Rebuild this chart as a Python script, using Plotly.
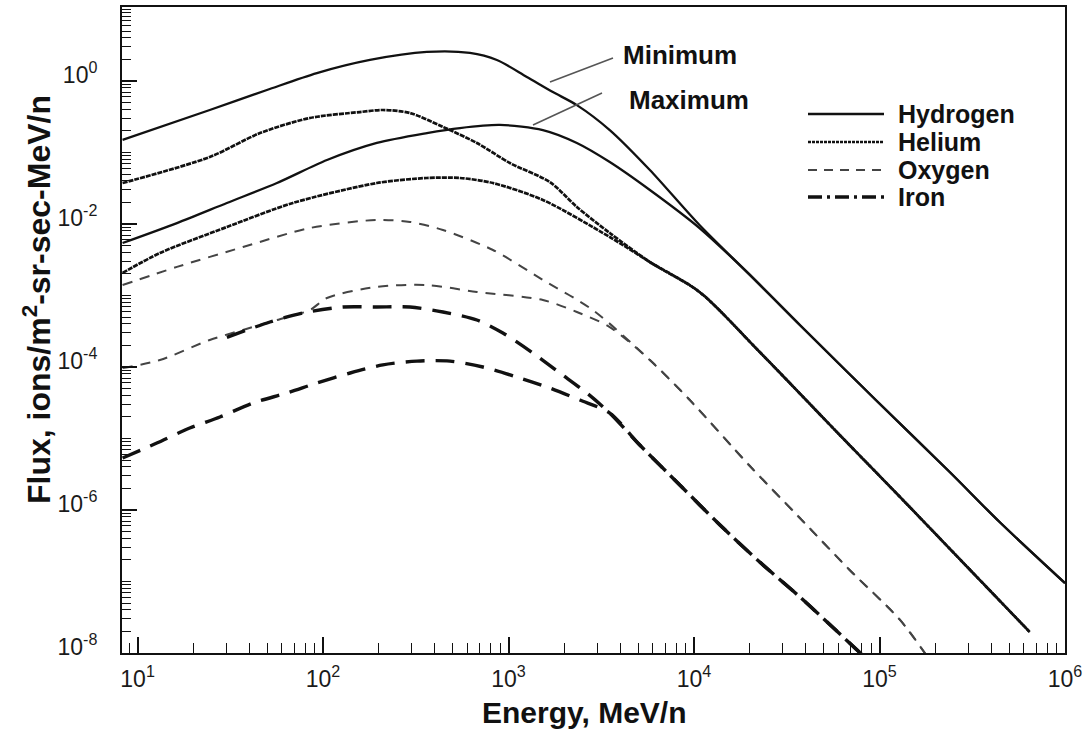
import plotly.graph_objects as go

# ---------------- data ----------------
# Hydrogen
h_min_e = [8.3, 24.5, 49.8, 92.6, 179, 363, 619, 865, 1255, 1734, 2335, 3513, 5780, 10700]
h_min_f = [0.150, 0.393, 0.748, 1.29, 1.97, 2.55, 2.47, 1.97, 1.14, 0.70, 0.46, 0.206, 0.0569, 0.00968]
h_max_e = [8.3, 16.3, 30.3, 56.4, 105, 195, 363, 547, 898, 1531, 2335, 3513, 5780, 10700]
h_max_f = [0.00542, 0.0103, 0.0197, 0.0374, 0.0785, 0.136, 0.187, 0.220, 0.243, 0.206, 0.136, 0.0736, 0.0299, 0.00879]
h_tail_e = [20000, 37200, 95500, 239000, 444000, 1000000]
h_tail_f = [1.94e-3, 3.87e-4, 3.45e-5, 3.40e-6, 6.79e-7, 9.5e-8]

# Helium
he_min_e = [8.3, 24.5, 45.7, 84.9, 158, 210, 294, 443, 675, 1016, 1670, 2335, 3513, 5780]
he_min_f = [0.0374, 0.0865, 0.187, 0.304, 0.368, 0.393, 0.357, 0.228, 0.136, 0.0713, 0.0386, 0.0173, 0.00748, 0.00294]
he_max_e = [8.3, 13.2, 30.3, 68.8, 195, 363, 547, 824, 1531, 3513, 5780]
he_max_f = [2.07e-3, 3.93e-3, 9.08e-3, 0.0197, 0.0374, 0.0440, 0.0440, 0.0374, 0.0217, 6.58e-3, 2.94e-3]
he_tail_e = [10700, 22600, 61000, 129000, 270000, 645000]
he_tail_f = [1.12e-3, 1.62e-4, 1.12e-5, 1.52e-6, 2.07e-7, 1.97e-8]

# Oxygen
o_min_e = [8.3, 16.3, 37, 84.9, 195, 294, 443, 824, 1531, 2844, 5780, 9490]
o_min_f = [1.40e-3, 2.51e-3, 4.76e-3, 8.79e-3, 0.0114, 0.0107, 8.24e-3, 4.33e-3, 1.65e-3, 6.27e-4, 1.25e-4, 3.45e-5]
o_max_e = [8.3, 13.2, 24.5, 37, 56.4, 84.9, 105, 195, 363, 675, 1531, 2335, 3513, 5780, 9490]
o_max_f = [9.68e-5, 1.25e-4, 2.39e-4, 3.30e-4, 4.54e-4, 6.27e-4, 9.23e-4, 1.32e-3, 1.40e-3, 1.12e-3,
           8.65e-4, 5.88e-4, 3.62e-4, 1.25e-4, 3.45e-5]
o_tail_e = [20000, 37200, 69000, 129000, 187000]
o_tail_f = [4.12e-6, 7.73e-7, 1.45e-7, 2.9e-8, 7.9e-9]

# Iron
fe_min_e = [30.3, 51.7, 77.9, 128, 195, 294, 443, 675, 932, 1352, 1891, 2642, 3513]
fe_min_f = [2.6e-4, 4.26e-4, 5.69e-4, 6.90e-4, 6.90e-4, 6.90e-4, 5.88e-4, 4.54e-4,
            2.99e-4, 1.57e-4, 8.24e-5, 4.33e-5, 2.27e-5]
fe_max_e = [8.3, 12.7, 19.1, 27.8, 41.9, 63.8, 92.6, 140, 210, 321, 483, 727, 1109, 1670, 2423, 3513]
fe_max_f = [5.33e-6, 8.65e-6, 1.40e-5, 2.0e-5, 3.14e-5, 4.33e-5, 5.97e-5, 8.24e-5, 1.07e-4, 1.21e-4,
            1.21e-4, 1.0e-4, 7.24e-5, 5.08e-5, 3.45e-5, 2.27e-5]
fe_tail_e = [5100, 8380, 13800, 22600, 37200, 86300]
fe_tail_f = [8.1e-6, 2.24e-6, 6.17e-7, 1.87e-7, 6.07e-8, 8e-9]

x_tickvals = [1e1, 1e2, 1e3, 1e4, 1e5, 1e6]
x_ticktext = ["10<sup>1</sup>", "10<sup>2</sup>", "10<sup>3</sup>", "10<sup>4</sup>",
              "10<sup>5</sup>", "10<sup>6</sup>"]
y_tickvals = [1e0, 1e-2, 1e-4, 1e-6, 1e-8]
y_ticktext = ["10<sup>0</sup>", "10<sup>-2</sup>", "10<sup>-4</sup>", "10<sup>-6</sup>", "10<sup>-8</sup>"]

legend_names = ["Hydrogen", "Helium", "Oxygen", "Iron"]
curve_labels = ["Minimum", "Maximum"]

# ---------------- styles ----------------
FONT = "Liberation Sans, Arial, Helvetica, sans-serif"
styles = {
    "Hydrogen": dict(color="#111111", width=2.3, dash="solid"),
    "Helium": dict(color="#111111", width=2.7, dash="5px,1px"),
    "Oxygen": dict(color="#444444", width=2.0, dash="10px,8px"),
    "Iron": dict(color="#111111", width=3.4, dash="19px,11px"),
}
legend_dash = {
    "Hydrogen": "solid",
    "Helium": "3px,1px",
    "Oxygen": "9px,7px",
    "Iron": "14px,5px,3px,5px",
}

fig = go.Figure()

def add(e, f, name):
    fig.add_trace(go.Scatter(x=e, y=f, mode="lines",
                             line=dict(styles[name], shape="spline", smoothing=0.8),
                             showlegend=False, hoverinfo="skip"))

add(h_min_e + h_tail_e, h_min_f + h_tail_f, "Hydrogen")
add(h_max_e + h_tail_e, h_max_f + h_tail_f, "Hydrogen")
add(he_min_e + he_tail_e, he_min_f + he_tail_f, "Helium")
add(he_max_e + he_tail_e, he_max_f + he_tail_f, "Helium")
add(o_min_e + o_tail_e, o_min_f + o_tail_f, "Oxygen")
add(o_max_e + o_tail_e, o_max_f + o_tail_f, "Oxygen")
add(fe_min_e + fe_tail_e, fe_min_f + fe_tail_f, "Iron")
add(fe_max_e + fe_tail_e, fe_max_f + fe_tail_f, "Iron")

# ---------------- layout ----------------
L, R, T, B = 122, 27, 7, 87
W, H = 1092, 740
pw, ph = W - L - R, H - T - B

def px(xp):
    return (xp - L) / pw

def py(yp):
    return (H - B - yp) / ph

shapes = []
annotations = []

# custom legend
legend_rows = [114, 142, 170, 197]
for name, row in zip(legend_names, legend_rows):
    st = styles[name]
    shapes.append(dict(type="line", xref="paper", yref="paper",
                       x0=px(808), x1=px(884), y0=py(row), y1=py(row),
                       line=dict(color=st["color"], width=st["width"], dash=legend_dash[name])))
    annotations.append(dict(text="<b>%s</b>" % name, xref="paper", yref="paper",
                            x=px(896), y=py(row), xanchor="left", yanchor="middle",
                            showarrow=False, font=dict(family=FONT, size=25, color="#111")))

# Minimum / Maximum labels with pointer lines
shapes.append(dict(type="line", xref="paper", yref="paper",
                   x0=px(550), y0=py(82), x1=px(613), y1=py(58),
                   line=dict(color="#555", width=1.6)))
shapes.append(dict(type="line", xref="paper", yref="paper",
                   x0=px(533), y0=py(125), x1=px(602), y1=py(93),
                   line=dict(color="#555", width=1.6)))
annotations.append(dict(text="<b>%s</b>" % curve_labels[0], xref="paper", yref="paper",
                        x=px(621), y=py(55), xanchor="left", yanchor="middle", showarrow=False,
                        font=dict(family=FONT, size=26, color="#111")))
annotations.append(dict(text="<b>%s</b>" % curve_labels[1], xref="paper", yref="paper",
                        x=px(627), y=py(100), xanchor="left", yanchor="middle", showarrow=False,
                        font=dict(family=FONT, size=26, color="#111")))

# axis titles
annotations.append(dict(text="<b>Energy, MeV/n</b>", xref="paper", yref="paper",
                        x=px(584), y=py(712), xanchor="center", yanchor="middle", showarrow=False,
                        font=dict(family=FONT, size=30, color="#111")))
annotations.append(dict(text="<b>Flux, ions/m<sup>2</sup>-sr-sec-MeV/n</b>", xref="paper", yref="paper",
                        x=px(37), y=py(300), xanchor="center", yanchor="middle", showarrow=False,
                        textangle=-90, font=dict(family=FONT, size=32, color="#111")))

axis_common = dict(
    type="log", showgrid=False, zeroline=False, showline=True, linecolor="#111",
    linewidth=2, mirror=True, ticks="inside", tickcolor="#111", tickwidth=1.5,
    tickmode="array", tickfont=dict(family=FONT, size=23, color="#1a1a1a"),
)

fig.update_layout(
    width=W, height=H, margin=dict(l=L, r=R, t=T, b=B, autoexpand=False),
    paper_bgcolor="white", plot_bgcolor="white",
    xaxis=dict(axis_common, range=[0.916, 6], tickvals=x_tickvals, ticktext=x_ticktext,
               ticklen=16, ticklabelstandoff=4,
               minor=dict(ticks="inside", ticklen=10, dtick="D1", tickcolor="#111", tickwidth=1.3,
                          showgrid=False)),
    yaxis=dict(axis_common, range=[-8, 1.035], tickvals=y_tickvals, ticktext=y_ticktext,
               ticklen=15, ticklabelstandoff=18, ticklabelshift=-6,
               minor=dict(ticks="inside", ticklen=9, dtick="D1", tickcolor="#111", tickwidth=1.3,
                          showgrid=False)),
    shapes=shapes, annotations=annotations, showlegend=False,
)

fig.write_html("out.html")
